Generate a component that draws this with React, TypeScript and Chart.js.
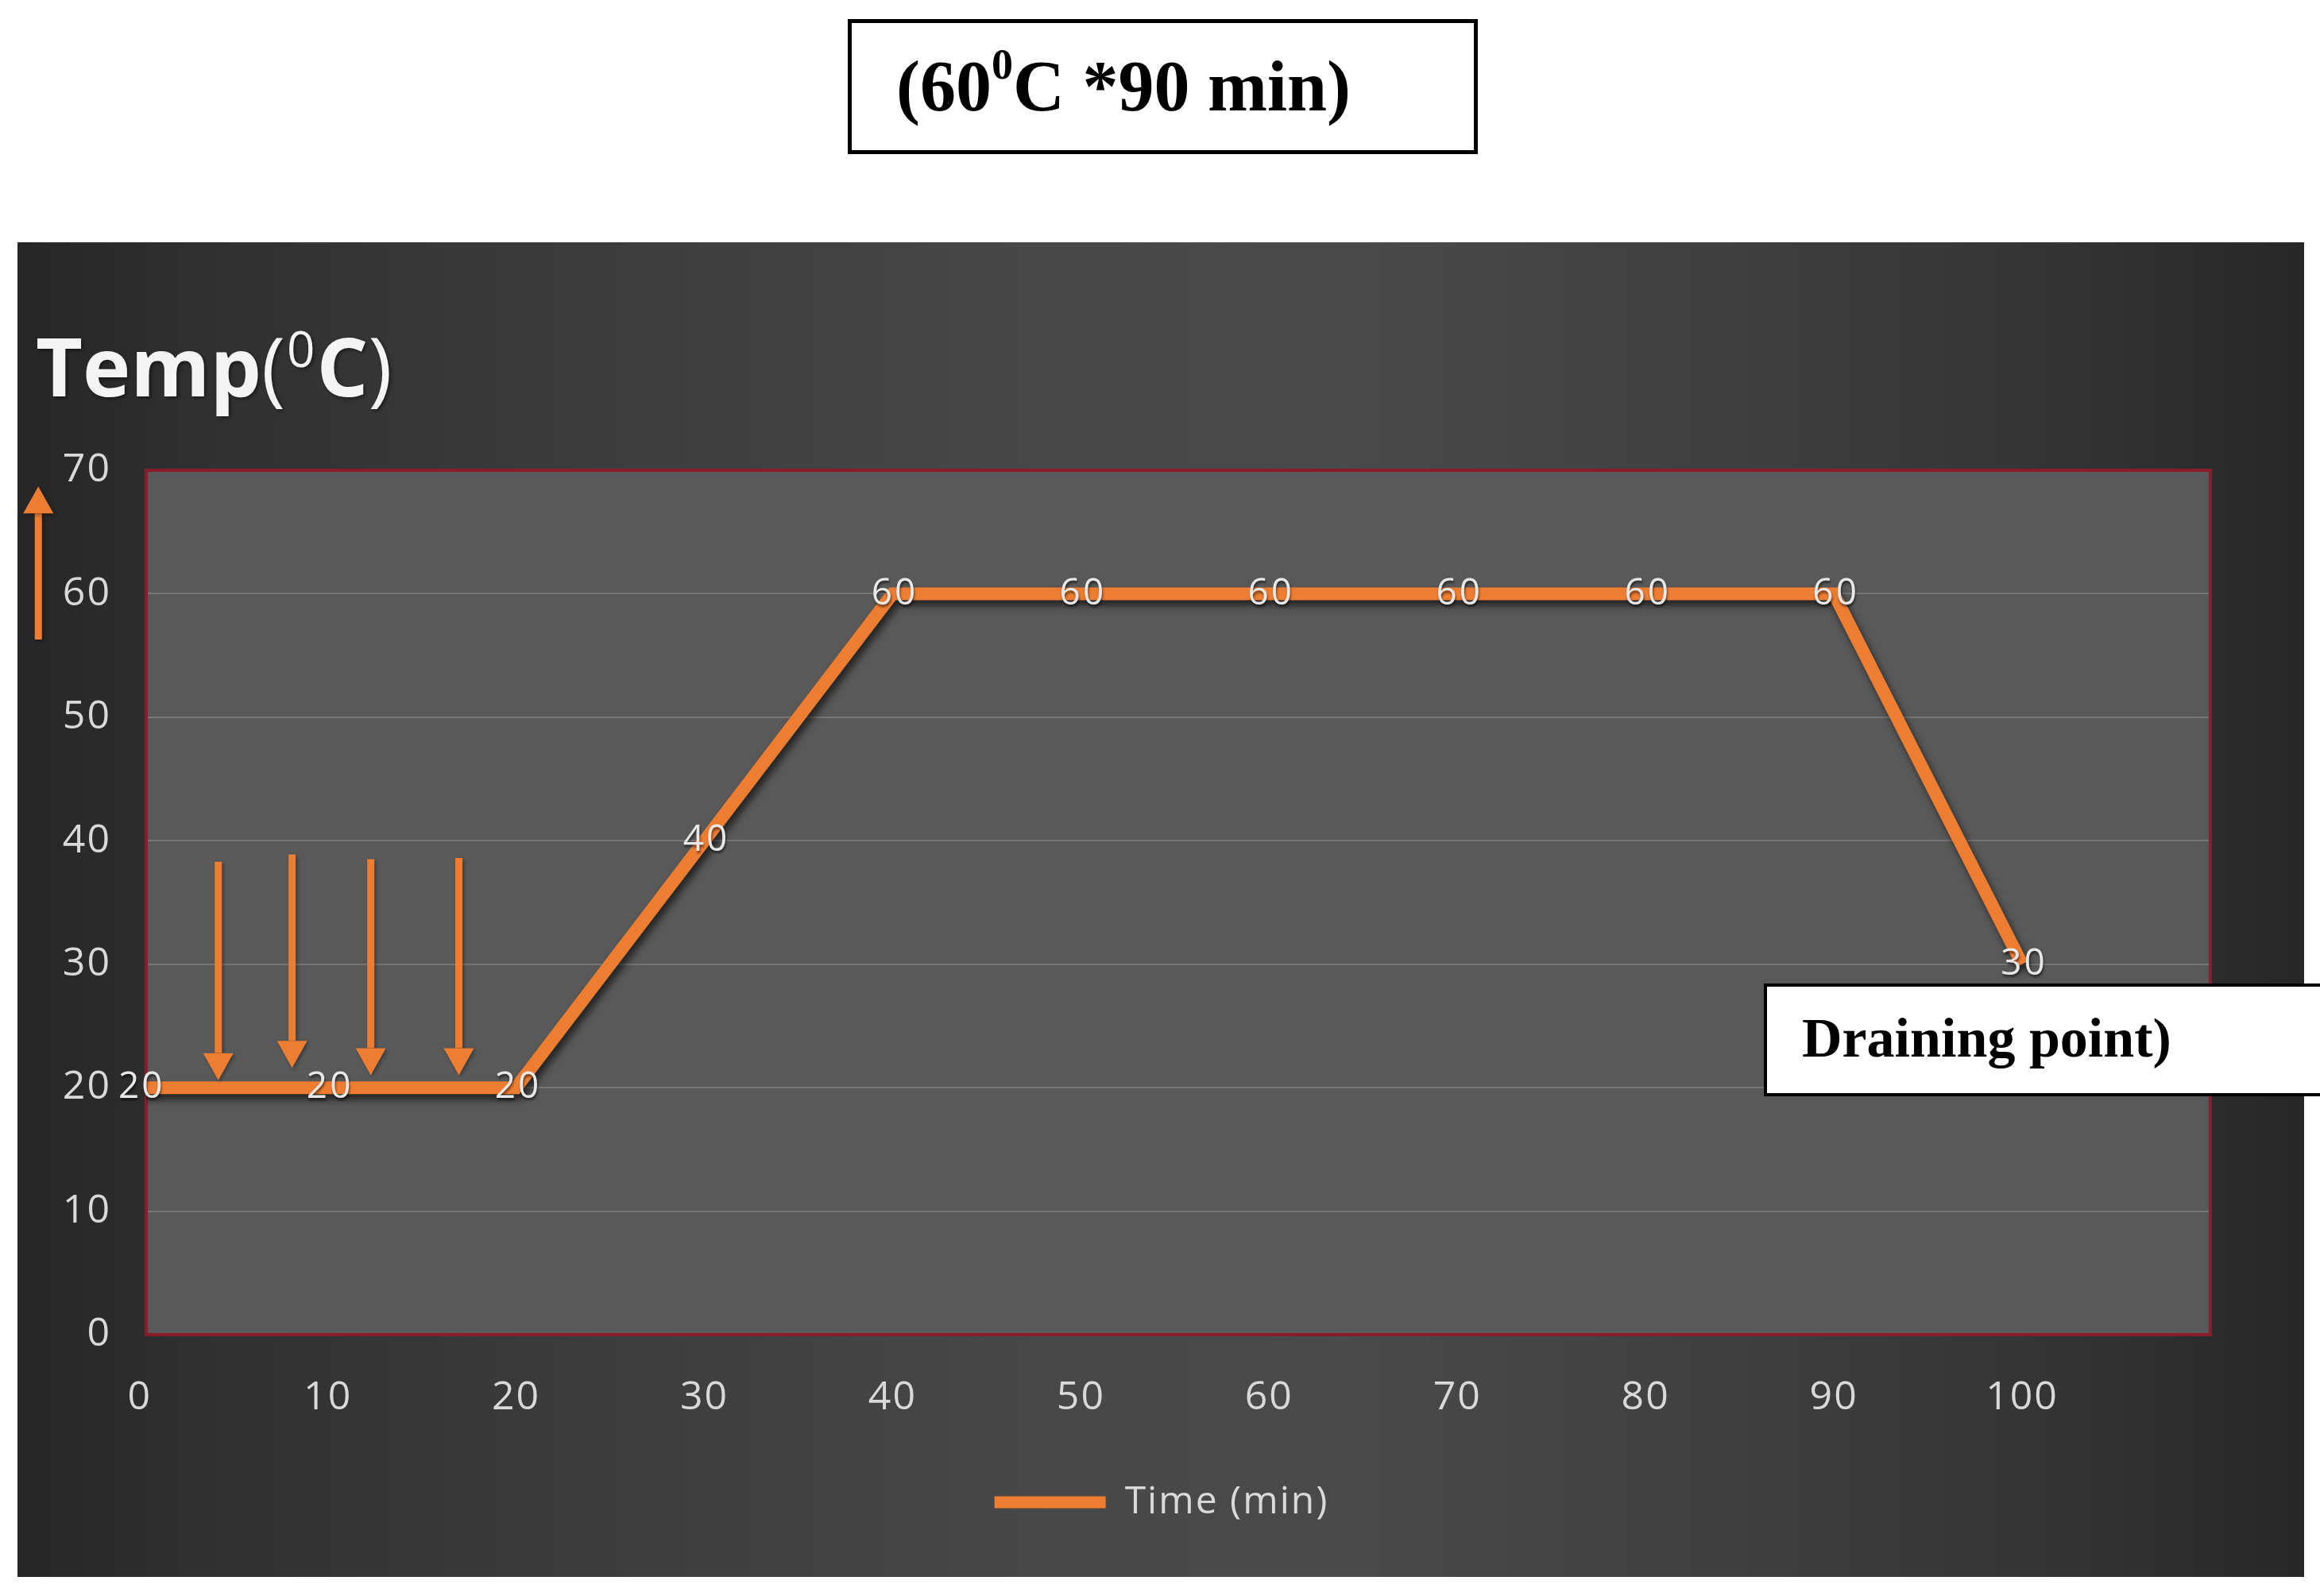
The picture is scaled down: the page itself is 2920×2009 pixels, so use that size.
import React, { useEffect, useRef } from 'react';
import { Chart, registerables } from 'chart.js';

Chart.register(...registerables);

// ---- data ----
const timeMin = [0, 10, 20, 30, 40, 50, 60, 70, 80, 90, 100];
const tempC = [20, 20, 20, 40, 60, 60, 60, 60, 60, 60, 30];
const seriesLabel = 'Time (min)';
const xTickValues = [0, 10, 20, 30, 40, 50, 60, 70, 80, 90, 100];
const xMin = 0.35;
const xMax = 110;
const yMin = 0;
const yMax = 70;
const yStep = 10;

// annotation arrows (data units)
const downArrowX = [4.18, 8.1, 12.28, 16.96];
const downArrowTop = [38.3, 38.9, 38.5, 38.6];
const downArrowTip = [20.6, 21.6, 21.0, 21.0];
const upArrowX = [-5.38];
const upArrowBottom = [56.3];
const upArrowTip = [68.7];

const ORANGE = '#ED7D31';
const FONT = "'Open Sans', 'Noto Sans', sans-serif";
const TEXT = '#d9d9d9';

function drawArrow(ctx: CanvasRenderingContext2D, x: number, y0: number, y1: number) {
  const dir = y1 > y0 ? 1 : -1;
  const headLen = 34;
  const headW = 19;
  ctx.save();
  ctx.shadowColor = 'rgba(0,0,0,0.35)';
  ctx.shadowBlur = 4;
  ctx.shadowOffsetX = 2;
  ctx.shadowOffsetY = 2;
  ctx.strokeStyle = ORANGE;
  ctx.lineWidth = 9;
  ctx.beginPath();
  ctx.moveTo(x, y0);
  ctx.lineTo(x, y1 - dir * headLen);
  ctx.stroke();
  ctx.fillStyle = ORANGE;
  ctx.beginPath();
  ctx.moveTo(x, y1);
  ctx.lineTo(x - headW, y1 - dir * headLen);
  ctx.lineTo(x + headW, y1 - dir * headLen);
  ctx.closePath();
  ctx.fill();
  ctx.restore();
}

const plotAreaPlugin = {
  id: 'plotArea',
  beforeDraw(chart: any) {
    const { ctx, chartArea: a } = chart;
    (ctx as any).letterSpacing = '2px';
    ctx.save();
    ctx.fillStyle = '#595959';
    ctx.fillRect(a.left, a.top, a.right - a.left, a.bottom - a.top);
    ctx.restore();
  },
  beforeDatasetsDraw(chart: any) {
    const { ctx, chartArea: a } = chart;
    ctx.save();
    ctx.strokeStyle = '#8a1c2c';
    ctx.lineWidth = 4;
    ctx.strokeRect(a.left, a.top, a.right - a.left, a.bottom - a.top);
    ctx.restore();
  },
};

const shadowPlugin = {
  id: 'lineShadow',
  beforeDatasetDraw(chart: any) {
    const ctx = chart.ctx;
    ctx.save();
    ctx.shadowColor = 'rgba(0,0,0,0.6)';
    ctx.shadowBlur = 10;
    ctx.shadowOffsetX = 4;
    ctx.shadowOffsetY = 7;
  },
  afterDatasetDraw(chart: any) {
    chart.ctx.restore();
  },
};

const overlayPlugin = {
  id: 'overlay',
  afterDatasetsDraw(chart: any) {
    const { ctx, scales } = chart;
    const xs = scales.x;
    const ys = scales.y;
    downArrowX.forEach((v, i) => {
      drawArrow(ctx, xs.getPixelForValue(v), ys.getPixelForValue(downArrowTop[i]), ys.getPixelForValue(downArrowTip[i]));
    });
    upArrowX.forEach((v, i) => {
      drawArrow(ctx, xs.getPixelForValue(v), ys.getPixelForValue(upArrowBottom[i]), ys.getPixelForValue(upArrowTip[i]));
    });
    // data labels centred on points
    ctx.save();
    ctx.font = `46px ${FONT}`;
    (ctx as any).letterSpacing = '3px';
    ctx.fillStyle = '#e8e8e8';
    ctx.textAlign = 'center';
    ctx.textBaseline = 'middle';
    ctx.shadowColor = 'rgba(0,0,0,0.55)';
    ctx.shadowBlur = 3;
    ctx.shadowOffsetX = 1;
    ctx.shadowOffsetY = 3;
    timeMin.forEach((t, i) => {
      ctx.fillText(String(tempC[i]), xs.getPixelForValue(t) + 2.5, ys.getPixelForValue(tempC[i]));
    });
    ctx.restore();
  },
  afterDraw(chart: any) {
    const ctx = chart.ctx;
    ctx.save();
    (ctx as any).letterSpacing = '0px';
    ctx.fillStyle = '#f4f4f4';
    ctx.textBaseline = 'alphabetic';
    ctx.shadowColor = 'rgba(0,0,0,0.5)';
    ctx.shadowBlur = 4;
    ctx.shadowOffsetX = 2;
    ctx.shadowOffsetY = 2;
    let x = 23;
    const y = 194;
    const big = `bold 102px ${FONT}`;
    const paren = `102px ${FONT}`;
    const small = `62px ${FONT}`;
    ctx.font = big;
    ctx.fillText('Temp', x, y);
    x += ctx.measureText('Temp').width;
    ctx.font = paren;
    ctx.fillText('(', x, y);
    x += ctx.measureText('(').width + 2;
    ctx.font = small;
    ctx.fillText('0', x, y - 37);
    x += ctx.measureText('0').width + 2;
    ctx.font = big;
    ctx.fillText('C', x, y);
    x += ctx.measureText('C').width;
    ctx.font = paren;
    ctx.fillText(')', x, y);
    ctx.restore();
  },
};

export default function App() {
  const ref = useRef<HTMLCanvasElement>(null);

  useEffect(() => {
    const canvas = ref.current;
    if (!canvas) return;
    const chart = new Chart(canvas, {
      type: 'line',
      data: {
        datasets: [
          {
            label: seriesLabel,
            data: timeMin.map((t, i) => ({ x: t, y: tempC[i] })),
            borderColor: ORANGE,
            backgroundColor: ORANGE,
            borderWidth: 16,
            pointRadius: 0,
            tension: 0,
            fill: false,
            clip: 0,
          } as any,
        ],
      },
      options: {
        animation: false,
        responsive: false,
        devicePixelRatio: 1,
        layout: { padding: { left: 0, top: 287, right: 18, bottom: 60 } },
        plugins: {
          tooltip: { enabled: false },
          title: { display: false },
          legend: {
            display: true,
            position: 'bottom',
            labels: {
              color: TEXT,
              font: { family: FONT, size: 48 },
              boxWidth: 140,
              boxHeight: 15,
              padding: 10,
              generateLabels: () => [
                {
                  text: seriesLabel,
                  fillStyle: ORANGE,
                  strokeStyle: ORANGE,
                  lineWidth: 0,
                  hidden: false,
                  datasetIndex: 0,
                  fontColor: TEXT,
                } as any,
              ],
            },
          },
        },
        scales: {
          x: {
            type: 'linear',
            min: xMin,
            max: xMax,
            grid: { display: false, drawTicks: false },
            border: { display: false },
            afterBuildTicks: (s: any) => {
              s.ticks = xTickValues.map((v) => ({ value: v }));
            },
            ticks: {
              color: TEXT,
              font: { family: FONT, size: 50 },
              padding: 50,
              maxRotation: 0,
              autoSkip: false,
              callback: (v: any) => String(v),
            },
            afterFit: (s: any) => {
              s.height = 177;
            },
          },
          y: {
            type: 'linear',
            min: yMin,
            max: yMax,
            grid: { color: '#767676', lineWidth: 2, drawTicks: false },
            border: { display: false },
            ticks: {
              stepSize: yStep,
              color: TEXT,
              font: { family: FONT, size: 50 },
              padding: 44,
            },
            afterFit: (s: any) => {
              s.width = 162;
            },
          },
          yRightSpacer: {
            type: 'linear',
            position: 'right',
            min: 0,
            max: 1,
            grid: { display: false, drawTicks: false },
            border: { display: false },
            ticks: { display: false },
            afterFit: (s: any) => {
              s.width = 100;
            },
          },
        },
      },
      plugins: [plotAreaPlugin, shadowPlugin, overlayPlugin],
    });
    return () => chart.destroy();
  }, []);

  return (
    <div
      style={{
        position: 'absolute',
        left: 0,
        top: 0,
        width: 2920,
        height: 2009,
        background: '#ffffff',
        overflow: 'hidden',
      }}
    >
      <div
        style={{
          position: 'absolute',
          left: 1067,
          top: 24,
          width: 793,
          height: 170,
          boxSizing: 'border-box',
          border: '5px solid #000',
          background: '#fff',
          fontFamily: "'Liberation Serif', 'Times New Roman', serif",
          fontWeight: 'bold',
          fontSize: 90,
          lineHeight: '160px',
          paddingLeft: 56,
          whiteSpace: 'nowrap',
          color: '#000',
        }}
      >
        (60<sup style={{ fontSize: '0.6em', verticalAlign: '0.75em', lineHeight: 0 }}>0</sup>C *90 min)
      </div>
      <div
        style={{
          position: 'absolute',
          left: 22,
          top: 305,
          width: 2878,
          height: 1680,
          background:
            'linear-gradient(to right, #262626 0%, #303030 8%, #3c3c3c 25%, #484848 45%, #4a4a4a 58%, #3f3f3f 75%, #333333 90%, #272727 100%)',
        }}
      >
        <canvas ref={ref} width={2878} height={1680} style={{ display: 'block', width: 2878, height: 1680 }} />
      </div>
      <div
        style={{
          position: 'absolute',
          left: 2220,
          top: 1238,
          width: 760,
          height: 142,
          boxSizing: 'border-box',
          border: '4px solid #000',
          background: '#fff',
          fontFamily: "'Liberation Serif', 'Times New Roman', serif",
          fontWeight: 'bold',
          fontSize: 70,
          lineHeight: '130px',
          paddingLeft: 44,
          whiteSpace: 'nowrap',
          color: '#000',
        }}
      >
        Draining point)
      </div>
    </div>
  );
}
